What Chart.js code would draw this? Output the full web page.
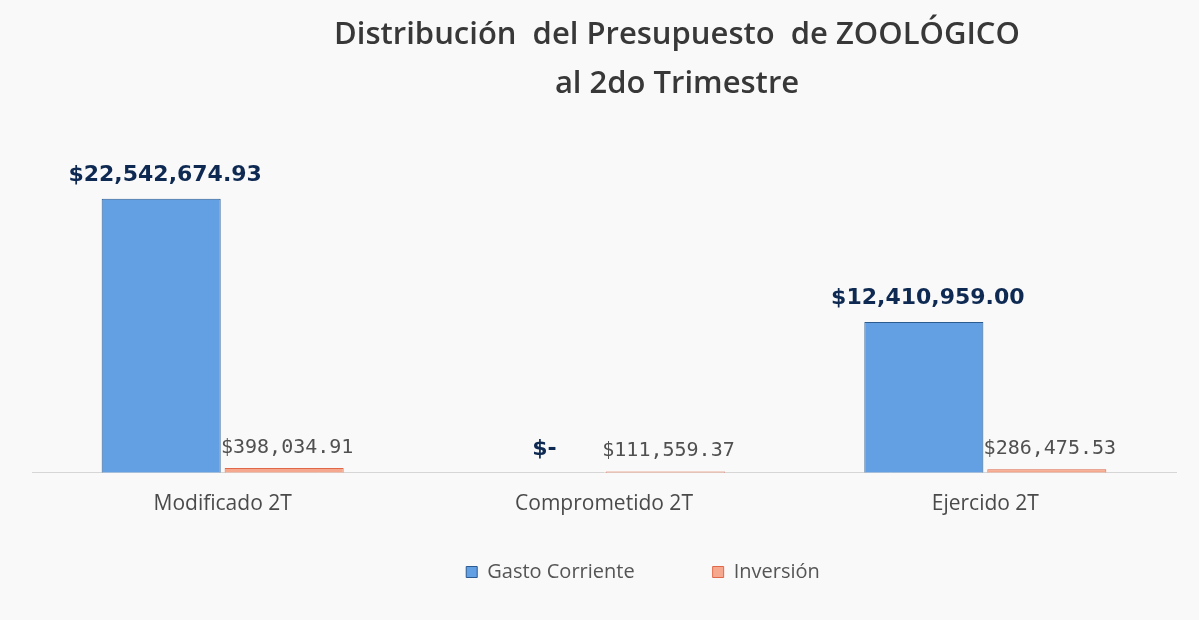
<!DOCTYPE html>
<html>
<head>
<meta charset="utf-8">
<script src="https://cdn.jsdelivr.net/npm/chart.js@4/dist/chart.umd.min.js"></script>
<style>
html,body{margin:0;padding:0;background:#f9f9f9;}
#wrap{width:1199px;height:620px;position:relative;}
</style>
</head>
<body>
<div id="wrap"><canvas id="c" width="1199" height="620"></canvas></div>
<script>
const titleLines = ["Distribución  del Presupuesto  de ZOOLÓGICO", "al 2do Trimestre"];
const categories = ["Modificado 2T", "Comprometido 2T", "Ejercido 2T"];
const gastoCorriente = [22542674.93, 0, 12410959.00];
const inversion = [398034.91, 111559.37, 286475.53];
const seriesNames = ["Gasto Corriente", "Inversión"];

function fmt(v){
  if (v === 0) return "$-";
  return "$" + v.toLocaleString("en-US",{minimumFractionDigits:2, maximumFractionDigits:2});
}

const valueLabels = {
  id: "valueLabels",
  afterDatasetsDraw(chart){
    const ctx = chart.ctx;
    chart.data.datasets.forEach((ds, di) => {
      const meta = chart.getDatasetMeta(di);
      meta.data.forEach((bar, i) => {
        const v = ds.data[i];
        ctx.save();
        ctx.textAlign = "center";
        ctx.textBaseline = "alphabetic";
        if (di === 0) {
          ctx.font = "bold 22px 'DejaVu Sans'";
          ctx.fillStyle = "#0f2a52";
          if (v === 0) ctx.fillText(fmt(v), bar.x + 2, bar.y - 18);
          else ctx.fillText(fmt(v), bar.x + 4, bar.y - 18);
        } else {
          ctx.font = "20px 'DejaVu Sans Mono'";
          ctx.fillStyle = "#505050";
          ctx.fillText(fmt(v), bar.x + 3, bar.y - 15);
        }
        ctx.restore();
      });
    });
  }
};

const shiftBoxes = {
  id: "shiftBoxes",
  afterLayout(chart){
    if (chart.titleBlock){ chart.titleBlock.left += 73; chart.titleBlock.right += 73; }
    if (chart.legend){
      chart.legend.left += 39; chart.legend.right += 39;
      chart.legend.top = 484; chart.legend.bottom = 484 + 130;
      chart.legend.height = 130;
    }
  }
};

const ctx = document.getElementById("c").getContext("2d");
new Chart(ctx, {
  type: "bar",
  data: {
    labels: categories,
    datasets: [
      {
        label: seriesNames[0],
        data: gastoCorriente,
        backgroundColor: "#629fe3",
        borderColor: "#2c5b90",
        borderWidth: 1,
        barPercentage: 0.968,
        categoryPercentage: 0.645
      },
      {
        label: seriesNames[1],
        data: inversion,
        backgroundColor: "#f6a88e",
        borderColor: "#e06848",
        borderWidth: 1,
        barPercentage: 0.968,
        categoryPercentage: 0.645
      }
    ]
  },
  options: {
    responsive: false,
    animation: false,
    devicePixelRatio: 1,
    layout: { padding: { left: 32, right: 23, top: 0, bottom: 44 } },
    plugins: {
      title: {
        display: true,
        text: titleLines,
        color: "#383838",
        font: { family: "'Open Sans'", size: 31, weight: "600", lineHeight: 1.58 },
        padding: { top: 11, bottom: 60 }
      },
      legend: {
        position: "bottom",
        maxHeight: 40,
        labels: {
          color: "#555555",
          font: { family: "'Open Sans'", size: 20 },
          boxWidth: 11,
          boxHeight: 11,
          padding: 78
        }
      },
      tooltip: { enabled: false }
    },
    scales: {
      x: {
        grid: { display: false, drawTicks: false },
        border: { display: true, color: "#d6d6d6", width: 1 },
        ticks: { color: "#4a4a4a", font: { family: "'Open Sans'", size: 21 }, padding: 19 }
      },
      y: {
        display: false,
        min: 0,
        max: 25000000
      }
    }
  },
  plugins: [valueLabels, shiftBoxes]
});
</script>
</body>
</html>
